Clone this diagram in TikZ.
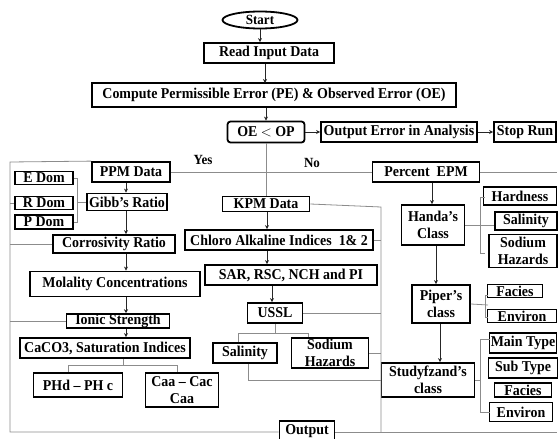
\documentclass[tikz,border=0pt]{standalone}
\usepackage{fontspec}
\setmainfont{Liberation Serif}[FakeStretch=0.93]
\usetikzlibrary{arrows.meta,shapes.geometric}
\tikzset{
  box/.style={draw, line width=1.8pt, inner sep=0pt, align=center, font=\fontsize{15}{17}\selectfont\bfseries},
  flow/.style={-{Stealth[length=4pt,width=4pt]}, line width=0.9pt, draw=black!85},
  conn/.style={line width=0.8pt, draw=black!45},
  lbl/.style={font=\fontsize{14}{16}\selectfont\bfseries, inner sep=0pt}
}
\begin{document}
\begin{tikzpicture}[x=1pt,y=-1pt]
\useasboundingbox (0,0) rectangle (558,439);
% top chain
\node[draw, ellipse, line width=1.8pt, minimum width=75pt, minimum height=17pt, inner sep=0pt, font=\fontsize{14}{16}\selectfont\bfseries] (start) at (260,20) {Start};
\node[box, minimum width=130pt, minimum height=20pt] (read) at (269,53) {Read Input Data};
\node[box, minimum width=364pt, minimum height=24pt] (compute) at (274,95) {Compute Permissible Error (PE) \& Observed Error (OE)};
\node[box, rounded corners=3pt, minimum width=77pt, minimum height=21pt] (oe) at (266,132) {OE $<$ OP};
\node[box, minimum width=156pt, minimum height=20pt] (outerr) at (399,132) {Output Error in Analysis};
\node[box, minimum width=62pt, minimum height=20pt] (stop) at (525,132) {Stop Run};
\node[lbl] (yes) at (203,160) {Yes};
\node[lbl] (no) at (312,163) {No};
% left column
\node[box, minimum width=78pt, minimum height=20pt] (ppm) at (131,172) {PPM Data};
\node[box, minimum width=58pt, minimum height=13pt] (edom) at (44,178) {E Dom};
\node[box, minimum width=58pt, minimum height=13pt] (rdom) at (44,203) {R Dom};
\node[box, minimum width=58pt, minimum height=14pt] (pdom) at (44,222) {P Dom};
\node[box, minimum width=80pt, minimum height=17pt] (gibb) at (127,202) {Gibb's Ratio};
\node[box, minimum width=122pt, minimum height=18pt] (corr) at (114,244) {Corrosivity Ratio};
\node[box, minimum width=170pt, minimum height=25pt] (molal) at (115,284) {Molality Concentrations};
\node[box, minimum width=103pt, minimum height=13pt] (ionic) at (118,321) {Ionic Strength};
\node[box, minimum width=170pt, minimum height=20pt] (caco3) at (105,348) {CaCO3, Saturation Indices};
\node[box, minimum width=89pt, minimum height=24pt] (phd) at (78,385) {PHd -- PH c};
\node[box, minimum width=73pt, minimum height=34pt] (caa) at (182,390) {Caa -- Cac\\Caa};
% middle column
\node[box, minimum width=87pt, minimum height=15pt] (kpm) at (266,204) {KPM Data};
\node[box, minimum width=188pt, minimum height=20pt] (chloro) at (279,240) {Chloro Alkaline Indices\ \ 1\& 2};
\node[box, minimum width=172pt, minimum height=20pt] (sar) at (291,275) {SAR, RSC, NCH and PI};
\node[box, minimum width=55pt, minimum height=20pt] (ussl) at (275,313) {USSL};
\node[box, minimum width=64pt, minimum height=20pt] (salm) at (245,353) {Salinity};
\node[box, minimum width=77pt, minimum height=30pt] (sodm) at (330,353) {Sodium\\Hazards};
\node[box, minimum width=55pt, minimum height=20pt] (output) at (307,431) {Output};
% right column
\node[box, minimum width=107pt, minimum height=20pt] (percent) at (426,172) {Percent\ \ EPM};
\node[box, minimum width=63pt, minimum height=40pt] (handa) at (433,225) {Handa's\\Class};
\node[box, minimum width=73pt, minimum height=18pt] (hard) at (520,196) {Hardness};
\node[box, minimum width=62pt, minimum height=18pt] (salr) at (526,221) {Salinity};
\node[box, minimum width=68pt, minimum height=33pt] (sodr) at (523,251) {Sodium\\Hazards};
\node[box, minimum width=58pt, minimum height=38pt] (piper) at (441,304) {Piper's\\class};
\node[box, minimum width=55pt, minimum height=13pt] (faciesp) at (515,291) {Facies};
\node[box, minimum width=69pt, minimum height=13pt] (environp) at (522,316) {Environ};
\node[box, minimum width=93pt, minimum height=34pt] (study) at (428,380) {Studyfzand's\\class};
\node[box, minimum width=67pt, minimum height=20pt] (maint) at (523,343) {Main Type};
\node[box, minimum width=69pt, minimum height=20pt] (subt) at (523,368) {Sub Type};
\node[box, minimum width=57pt, minimum height=14pt] (faciess) at (523,390) {Facies};
\node[box, minimum width=63pt, minimum height=19pt] (environs) at (521,412) {Environ};
% bus coordinates
\coordinate (tl) at (10,162);
\coordinate (bl) at (10,432);
\coordinate (br) at (557,432);
\coordinate (pr) at (557,172);
\coordinate (bustop) at (381,207);
\coordinate (busbot) at (381,432);
% gray connectors
\draw[conn] (ppm.north west) -- (tl) -- (bl) -- (output.west |- bl);
\draw[conn] (output.east |- br) -- (br);
\draw[conn] (ppm.east) -- (percent.west);
\draw[conn] (percent.east) -- (pr);
\draw[conn] (oe.south) -- (kpm.north);
\draw[conn] (10,203) -- (rdom.west);
\draw[conn] (10,244) -- (corr.west);
\draw[conn] (10,321) -- (ionic.west);
\draw[conn] (74,178) -- (77,178) -- (77,222) -- (74,222);
\draw[conn] (77,202) -- (gibb.west);
\draw[conn] (caco3.south -| 123,0) -- (123,365);
\draw[conn] (phd.north -| 68,0) -- (68,365) -- (177,365) -- (caa.north -| 177,0);
\draw[conn] (kpm.east) -- (bustop) -- (busbot);
\draw[conn] (chloro.east) -- (chloro.east -| bustop);
\draw[conn] (ussl.east) -- (ussl.east -| bustop);
\draw[conn] (sodm.east) -- (sodm.east -| bustop);
\draw[conn] (ussl.south) -- (275,333);
\draw[conn] (salm.north -| 238,0) -- (238,333) -- (308,333) -- (sodm.north -| 308,0);
\draw[conn] (salm.south -| 248,0) -- (248,380) -- (study.west);
\draw[conn] (485,197) -- (480,197) -- (480,253) -- (485,253);
\draw[conn] (handa.east) -- (salr.west |- handa.east);
\draw[conn] (488,295) -- (485,295) -- (485,317) -- (488,317);
\draw[conn] (piper.east) -- (488,305);
\draw[conn] (490,339) -- (480,339) -- (480,412) -- (490,412);
\draw[conn] (study.east) -- (480,380);
% main flow arrows
\draw[flow] (start) -- (start |- read.north);
\draw[flow] (read.south -| 265,0) -- (265,83);
\draw[flow] (compute.south -| 266,0) -- (oe.north);
\draw[flow] (oe) -- (outerr);
\draw[flow] (outerr) -- (stop);
\draw[flow] (ppm.south -| 126,0) -- (gibb.north -| 126,0);
\draw[flow] (gibb.south -| 126,0) -- (corr.north -| 126,0);
\draw[flow] (corr.south -| 126,0) -- (molal.north -| 126,0);
\draw[flow] (molal.south -| 126,0) -- (ionic.north -| 126,0);
\draw[flow] (ionic.south -| 126,0) -- (caco3.north -| 126,0);
\draw[flow] (kpm.south -| 267,0) -- (chloro.north -| 267,0);
\draw[flow] (chloro.south -| 267,0) -- (sar.north -| 267,0);
\draw[flow] (sar.south -| 272,0) -- (ussl.north -| 272,0);
\draw[flow] (percent.south -| 432,0) -- (handa.north -| 432,0);
\draw[flow] (handa.south -| 436,0) -- (piper.north -| 436,0);
\draw[flow] (piper.south -| 440,0) -- (study.north -| 440,0);
\end{tikzpicture}
\end{document}
